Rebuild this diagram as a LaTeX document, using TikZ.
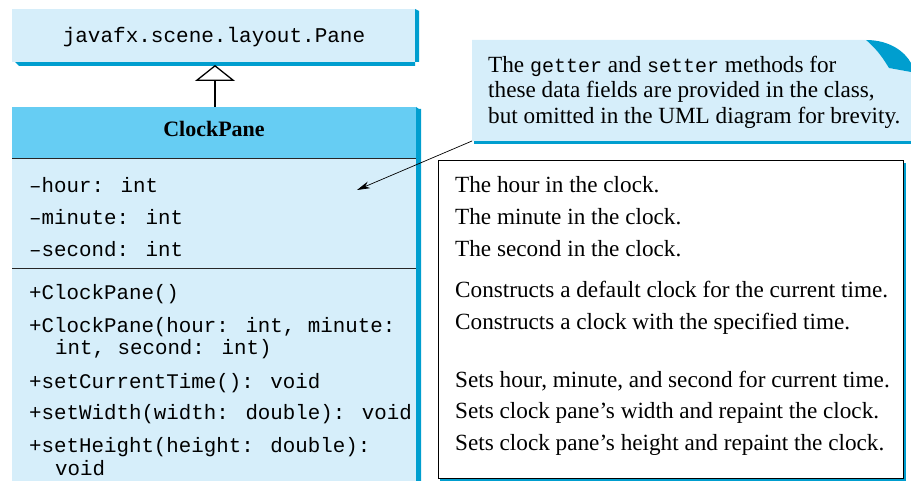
\documentclass[tikz,border=0pt]{standalone}
\usepackage{fontspec}
\setmainfont{Liberation Serif}
\newfontfamily\codefont{Liberation Mono}
\usetikzlibrary{arrows.meta}
\definecolor{lightfill}{HTML}{D6EEFA}
\definecolor{headfill}{HTML}{66CDF3}
\definecolor{shadowblue}{HTML}{009ECF}
\begin{document}
\begin{tikzpicture}[x=1pt,y=-1pt,
  code/.style={anchor=base west,inner sep=0pt,font=\codefont\fontsize{20.8}{24}\selectfont},
  desc/.style={anchor=base west,inner sep=0pt,font=\fontsize{23.2}{26}\selectfont},
  note/.style={anchor=base west,inner sep=0pt,font=\fontsize{23.2}{26}\selectfont},
  sep/.style={line width=0.9pt,black!85}]
\useasboundingbox (0,0) rectangle (911,481);
% --- Pane box
\fill[shadowblue] (15,62) -- (419,62) -- (419,11) -- (415,9) -- (415,66) -- (19,66) -- cycle;
\fill[lightfill] (12,9) rectangle (415,62);
\node[inner sep=0pt,anchor=base,font=\codefont\fontsize{21}{24}\selectfont] (pane) at (214,43) {javafx.scene.layout.Pane};
\coordinate (paneB) at (215,65);
% --- ClockPane box
\fill[shadowblue] (416,107) -- (419,109) -- (421,109) -- (421,481) -- (416,481) -- cycle;
\fill[headfill] (12,107) rectangle (416,158);
\fill[lightfill] (12,158) rectangle (416,481);
\draw[sep] (12,158) -- (416,158);
\draw[sep] (12,268) -- (416,268);
\node[inner sep=0pt,anchor=base,font=\bfseries\fontsize{22}{26}\selectfont] (cp) at (214,137) {ClockPane};
\coordinate (cpT) at (215,107);
\draw[line width=1.3pt,-{Triangle[open,length=16pt,width=40pt,line width=1.3pt]}] (cpT) -- (paneB);
\node[code] (a1) at (29,193) {–hour: int};
\node[code] (a2) at (29,225) {–minute: int};
\node[code] (a3) at (29,257) {–second: int};
\node[code] (m1) at (29,300) {+ClockPane()};
\node[code] (m2) at (29,332) {+ClockPane(hour: int, minute:};
\node[code] (m2b) at (55,355) {int, second: int)};
\node[code] (m3) at (29,388) {+setCurrentTime(): void};
\node[code] (m4) at (29,419) {+setWidth(width: double): void};
\node[code] (m5) at (29,452) {+setHeight(height: double):};
\node[code] (m5b) at (55,475) {void};
% --- description box
\fill[shadowblue] (440,478) rectangle (906,481);
\fill[shadowblue] (903,163) rectangle (906,481);
\draw[line width=0.8pt,fill=white] (438,160) rectangle (903,478);
\node[desc] (d1) at (455,193) {The hour in the clock.};
\node[desc] (d2) at (455,225) {The minute in the clock.};
\node[desc] (d3) at (455,257) {The second in the clock.};
\node[desc] (d4) at (455,298) {Constructs a default clock for the current time.};
\node[desc] (d5) at (455,330) {Constructs a clock with the specified time.};
\node[desc] (d6) at (455,387) {Sets hour, minute, and second for current time.};
\node[desc] (d7) at (455,418) {Sets clock pane’s width and repaint the clock.};
\node[desc] (d8) at (455,450) {Sets clock pane’s height and repaint the clock.};
% --- callout
\fill[shadowblue] (474,141) rectangle (911,144);
\fill[lightfill] (472,40) -- (866,40) .. controls (878,50) and (884,60) .. (889,68) -- (911,72) -- (911,141) -- (472,141) -- cycle;
\fill[shadowblue] (866,40) .. controls (890,40) and (905,52) .. (911,63) -- (911,72) -- (889,68) .. controls (884,60) and (878,50) .. (866,40) -- cycle;
\node[note] (n1) at (488,73) {The {\codefont\fontsize{20}{24}\selectfont getter} and {\codefont\fontsize{20}{24}\selectfont setter} methods for};
\node[note] (n2) at (488,98) {these data fields are provided in the class,};
\node[note] (n3) at (488,124) {but omitted in the UML diagram for brevity.};
\coordinate (calloutP) at (472,141);
\coordinate (arrowT) at (357,190);
\draw[line width=0.7pt,-{Stealth[length=13pt,width=7pt]}] (calloutP) -- (arrowT);
\end{tikzpicture}
\end{document}
